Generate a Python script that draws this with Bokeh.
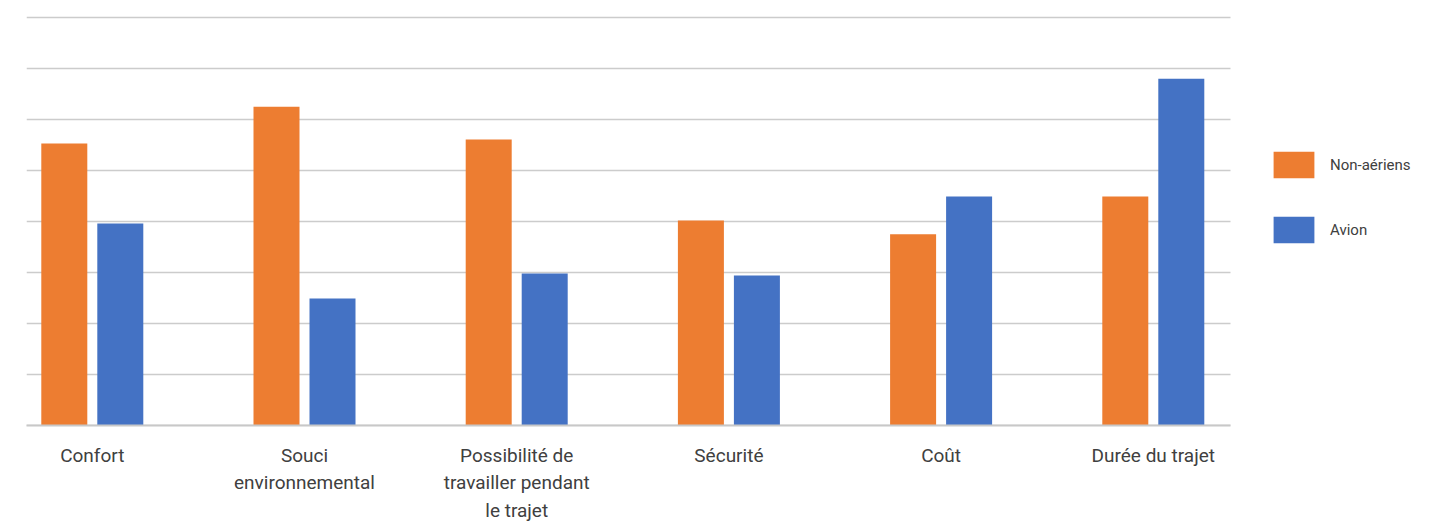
from bokeh.plotting import figure
from bokeh.models import Range1d, FixedTicker, Legend, LegendItem, ColumnDataSource
from bokeh.embed import file_html
from bokeh.resources import INLINE

categories = ["Confort", "Souci\nenvironnemental", "Possibilité de\ntravailler pendant\nle trajet",
              "Sécurité", "Coût", "Durée du trajet"]
non_aeriens = [5.53, 6.25, 5.61, 4.02, 3.75, 4.49]
avion = [3.96, 2.49, 2.98, 2.94, 4.49, 6.80]
series_names = ["Non-aériens", "Avion"]
grid_levels = [0, 1, 2, 3, 4, 5, 6, 7, 8]
colors = ["#ED7D31", "#4472C4"]

n = len(categories)
# layout (pixels)
W, H = 1440, 525
cat_px = 212.2        # width of one category
cat0_px = 13.7        # left edge of first category
frame_left = 26
grid_right_px = 1230


def px2x(px):
    return (px - cat0_px) / cat_px


p = figure(width=W, height=H, output_backend="svg", toolbar_location=None,
           x_range=Range1d(px2x(frame_left), px2x(W)), y_range=Range1d(0, 8.04),
           min_border_left=frame_left, min_border_right=0, min_border_top=15, min_border_bottom=100)
p.outline_line_color = None
p.background_fill_color = "white"
p.xgrid.grid_line_color = None
p.ygrid.grid_line_color = None

gx0, gx1 = px2x(frame_left), px2x(grid_right_px)
p.segment(x0=[gx0] * len(grid_levels), x1=[gx1] * len(grid_levels), y0=grid_levels, y1=grid_levels,
          line_color="#cccccc", line_width=1.5)

bw = 46 / cat_px
step = 56 / cat_px
idx = list(range(n))
src1 = ColumnDataSource(dict(x=[i + 0.5 - step for i in idx], top=non_aeriens))
src2 = ColumnDataSource(dict(x=[i + 0.5 for i in idx], top=avion))
r1 = p.vbar(x="x", top="top", width=bw, source=src1, color=colors[0], line_color=None)
r2 = p.vbar(x="x", top="top", width=bw, source=src2, color=colors[1], line_color=None)

ticks = [i + 0.5 - step / 2 for i in idx]
p.xaxis.ticker = FixedTicker(ticks=ticks)
p.xaxis.major_label_overrides = {t: c for t, c in zip(ticks, categories)}
p.xaxis.bounds = (gx0, gx1)
p.xaxis.major_tick_line_color = None
p.xaxis.minor_tick_line_color = None
p.xaxis.axis_line_color = "#c8c8c8"
p.xaxis.axis_line_width = 2
p.xaxis.major_label_text_font = "Roboto"
p.xaxis.major_label_text_font_size = "19px"
p.xaxis.major_label_text_color = "#404040"
p.xaxis.major_label_standoff = 12

p.yaxis.visible = False

legend = Legend(items=[LegendItem(label=series_names[0], renderers=[r1]),
                       LegendItem(label=series_names[1], renderers=[r2])],
                location=(1242, 179), padding=0, margin=0, spacing=32,
                glyph_width=51, glyph_height=33, label_standoff=11,
                label_text_font="Roboto", label_text_font_size="15px",
                label_text_color="#404040", border_line_color=None,
                background_fill_alpha=0)
p.add_layout(legend, "center")

open("out.html", "w").write(file_html(p, INLINE))
